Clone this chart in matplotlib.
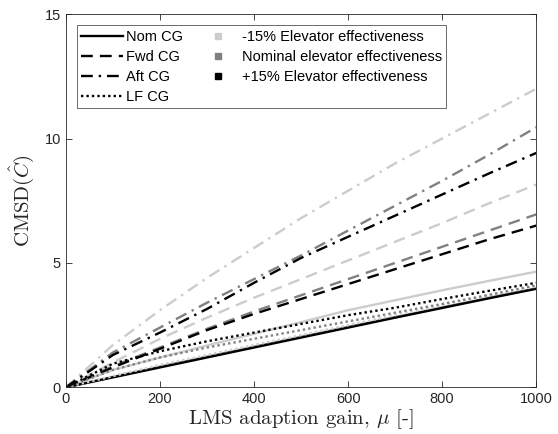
import matplotlib
matplotlib.use("Agg")
import matplotlib.pyplot as plt
from matplotlib.lines import Line2D
import numpy as np

plt.rcParams['font.family'] = ['Liberation Sans', 'DejaVu Sans']
plt.rcParams['mathtext.fontset'] = 'cm'

# LMS adaption gain
mu = np.array([0, 100, 200, 300, 400, 500, 600, 700, 800, 900, 1000])

# CMSD values: CG case x elevator effectiveness (-15%, nominal, +15%)
nom_m15 = [0, 0.70, 1.20, 1.68, 2.15, 2.62, 3.10, 3.50, 3.90, 4.28, 4.65]
nom_nom = [0, 0.42, 0.83, 1.23, 1.63, 2.03, 2.43, 2.82, 3.21, 3.60, 3.98]
nom_p15 = [0, 0.40, 0.80, 1.20, 1.60, 2.00, 2.40, 2.80, 3.19, 3.58, 3.96]

fwd_m15 = [0, 1.00, 1.95, 2.80, 3.60, 4.35, 5.10, 5.85, 6.60, 7.40, 8.15]
fwd_nom = [0, 0.85, 1.60, 2.35, 3.05, 3.70, 4.35, 5.00, 5.65, 6.30, 6.95]
fwd_p15 = [0, 0.80, 1.55, 2.30, 2.95, 3.55, 4.15, 4.75, 5.35, 5.95, 6.50]

aft_m15 = [0, 1.70, 3.10, 4.40, 5.60, 6.80, 7.90, 9.00, 10.00, 11.00, 12.00]
aft_nom = [0, 1.40, 2.40, 3.40, 4.35, 5.30, 6.30, 7.30, 8.30, 9.35, 10.45]
aft_p15 = [0, 1.30, 2.20, 3.15, 4.20, 5.20, 6.05, 6.90, 7.75, 8.60, 9.42]

lf_m15 = [0, 0.45, 0.90, 1.30, 1.70, 2.10, 2.50, 2.90, 3.30, 3.70, 4.05]
lf_nom = [0, 0.70, 1.20, 1.60, 1.95, 2.30, 2.65, 3.00, 3.35, 3.72, 4.10]
lf_p15 = [0, 0.95, 1.45, 1.85, 2.20, 2.55, 2.90, 3.20, 3.55, 3.88, 4.20]

cg_labels = ['Nom CG', 'Fwd CG', 'Aft CG', 'LF CG']
eff_labels = ['-15% Elevator effectiveness', 'Nominal elevator effectiveness',
              '+15% Elevator effectiveness']

light = (0.8, 0.8, 0.8)
mid = (0.5, 0.5, 0.5)
dark = (0.0, 0.0, 0.0)
axcol = (0.15, 0.15, 0.15)

fig = plt.figure(figsize=(5.58, 4.34), dpi=100)
ax = fig.add_axes([0.118, 0.1075, 0.843, 0.86])

groups = [
    ('-', [nom_m15, nom_nom, nom_p15]),
    ((0, (5, 3)), [fwd_m15, fwd_nom, fwd_p15]),
    ((0, (5, 2.5, 1, 2.5)), [aft_m15, aft_nom, aft_p15]),
    ((0, (1, 1.3)), [lf_m15, lf_nom, lf_p15]),
]
for ls, series in groups:
    for ys, c in zip(series, [light, mid, dark]):
        ax.plot(mu, ys, linestyle=ls, color=c, lw=1.7)

ax.set_xlim(0, 1000)
ax.set_ylim(0, 15)
ax.set_xticks([0, 200, 400, 600, 800, 1000])
ax.set_yticks([0, 5, 10, 15])
ax.tick_params(direction='in', top=True, right=True, labelsize=10.5,
               colors=axcol, length=4, width=0.6)
for s in ax.spines.values():
    s.set_color(axcol)
    s.set_linewidth(0.6)

ax.set_xlabel(r'LMS adaption gain, $\mu$ [-]', family='cmr10', fontsize=15, color=axcol, labelpad=1)
ax.set_ylabel(r'CMSD$(\hat{C})$', family='cmr10', fontsize=15, color=axcol, labelpad=6)

handles = [Line2D([], [], color='k', lw=1.7, linestyle=ls) for ls, _ in groups]
handles += [Line2D([], [], color=c, marker='s', ms=5, linestyle='none') for c in [light, mid, dark]]
handles += [Line2D([], [], color='none')]
labels = cg_labels + eff_labels + ['']
leg = ax.legend(handles, labels, ncol=2, loc='upper left', bbox_to_anchor=(0.023, 0.97),
                fontsize=10.5, frameon=True, fancybox=False, edgecolor=axcol,
                handlelength=2.9, handletextpad=0.2, columnspacing=0.9,
                labelspacing=0.42, borderpad=0.3, borderaxespad=0)
leg.get_frame().set_linewidth(0.6)

fig.savefig('out.png', dpi=100)
